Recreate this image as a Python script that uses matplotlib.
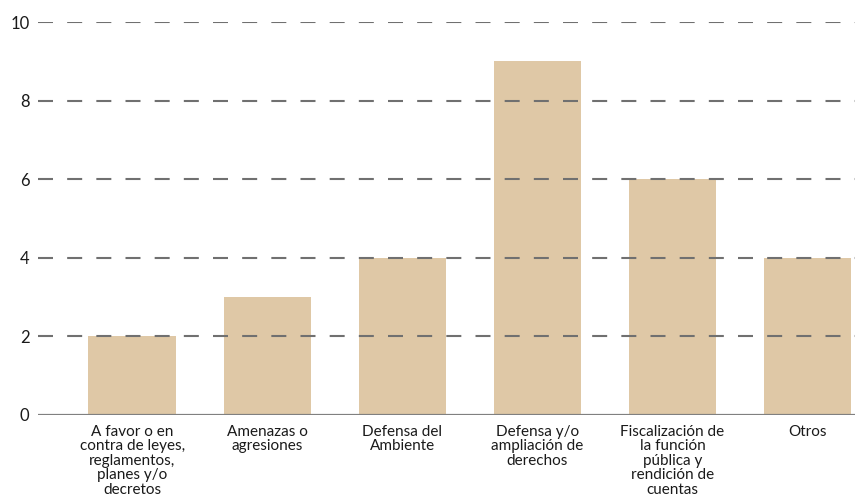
import matplotlib.pyplot as plt

categories = [
    "A favor o en\ncontra de leyes,\nreglamentos,\nplanes y/o\ndecretos",
    "Amenazas o\nagresiones",
    "Defensa del\nAmbiente",
    "Defensa y/o\nampliación de\nderechos",
    "Fiscalización de\nla función\npública y\nrendición de\ncuentas",
    "Otros",
]
values = [2, 3, 4, 9, 6, 4]
yticks = [0, 2, 4, 6, 8, 10]

plt.rcParams['font.family'] = ['Lato', 'DejaVu Sans']

fig = plt.figure(figsize=(8.6, 5.04), dpi=100)
ax = fig.add_axes([0.044, 0.1766, 0.95, 0.7797])

x = range(len(categories))
ax.bar(x, values, width=0.65, color='#dfc8a6', zorder=1)

for t in yticks[1:]:
    ax.axhline(t, color='#707070', lw=1.5, dashes=(7.2, 6.8), zorder=2)
ax.axhline(0, color='#808080', lw=1.6, zorder=3)

ax.set_xlim(-0.70, 5.35)
ax.set_ylim(0, 10)
ax.set_yticks(yticks)
ax.set_yticklabels([str(t) for t in yticks], fontsize=12, color='#1a1a1a')
ax.set_xticks(list(x))
ax.set_xticklabels(categories, fontsize=11, color='#1a1a1a', linespacing=1.05)
ax.tick_params(axis='both', length=0)
ax.tick_params(axis='y', pad=6)
ax.tick_params(axis='x', pad=7)
for s in ax.spines.values():
    s.set_visible(False)

fig.savefig('out.png', dpi=100)
